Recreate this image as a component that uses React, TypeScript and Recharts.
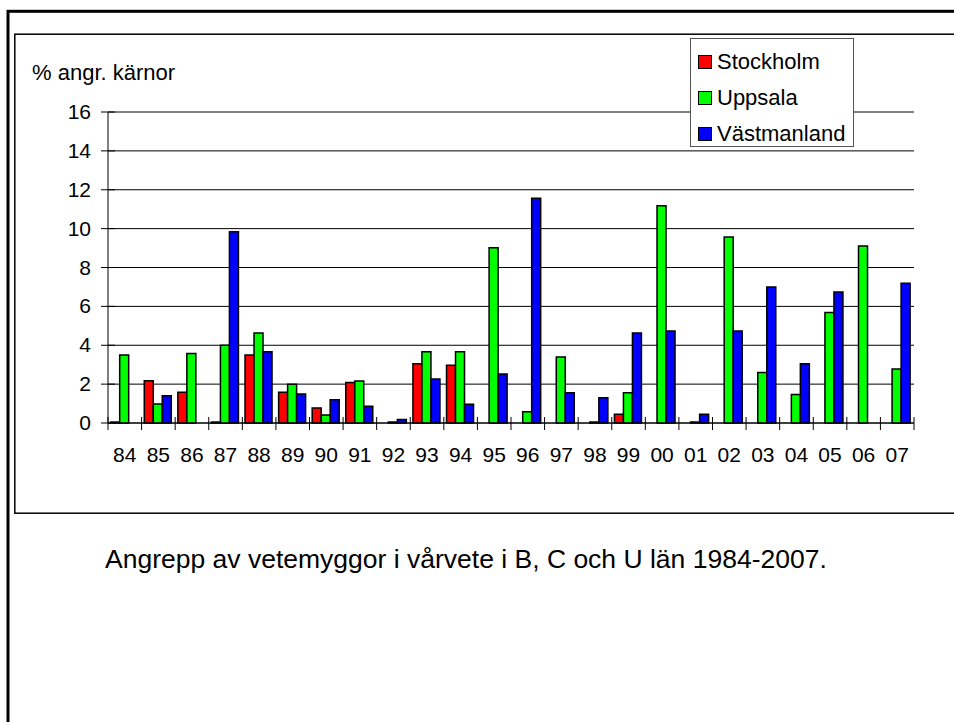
import { BarChart, Bar, XAxis, YAxis, CartesianGrid } from 'recharts';

const years = ['84', '85', '86', '87', '88', '89', '90', '91', '92', '93', '94', '95', '96', '97', '98', '99', '00', '01', '02', '03', '04', '05', '06', '07'];
const stockholm = [0.05, 2.18, 1.58, 0.05, 3.5, 1.58, 0.77, 2.09, null, 3.05, 2.97, null, null, null, null, 0.45, null, null, null, null, null, null, null, null];
const uppsala = [3.5, 0.98, 3.57, 4.0, 4.63, 2.0, 0.41, 2.16, 0.05, 3.67, 3.67, 9.02, 0.58, 3.4, 0.05, 1.56, 11.18, 0.05, 9.57, 2.6, 1.47, 5.69, 9.1, 2.78];
const vastmanland = [null, 1.4, null, 9.84, 3.67, 1.49, 1.2, 0.86, 0.18, 2.26, 0.96, 2.52, 11.56, 1.56, 1.3, 4.63, 4.73, 0.45, 4.73, 7.0, 3.05, 6.74, null, 7.19];
const yTicks = [0, 2, 4, 6, 8, 10, 12, 14, 16];

const series = [
  { key: 'Stockholm', color: '#ff0000' },
  { key: 'Uppsala', color: '#00ff00' },
  { key: 'Västmanland', color: '#0000ff' },
];

const data = years.map((y, i) => ({
  year: y,
  Stockholm: stockholm[i],
  Uppsala: uppsala[i],
  'Västmanland': vastmanland[i],
}));

const FONT = '"Liberation Sans", Arial, sans-serif';
const PLOT_LEFT = 108;
const PLOT_RIGHT = 914;
const PLOT_TOP = 112;
const PLOT_BOTTOM = 423;
const BAND = (PLOT_RIGHT - PLOT_LEFT) / years.length;

function XTick(props: any) {
  const { x, payload, index } = props;
  return (
    <g>
      <line x1={x - BAND / 2} x2={x - BAND / 2} y1={PLOT_BOTTOM - 6} y2={PLOT_BOTTOM + 7} stroke="#000" strokeWidth={1} />
      {index === years.length - 1 && (
        <line x1={x + BAND / 2} x2={x + BAND / 2} y1={PLOT_BOTTOM - 6} y2={PLOT_BOTTOM + 7} stroke="#000" strokeWidth={1} />
      )}
      <text x={x} y={462} textAnchor="middle" fontSize={21} fontFamily={FONT} fill="#000">
        {payload.value}
      </text>
    </g>
  );
}

function YTick(props: any) {
  const { y, payload } = props;
  return (
    <g>
      <line x1={PLOT_LEFT - 7} x2={PLOT_LEFT + 7} y1={y} y2={y} stroke="#000" strokeWidth={1} />
      <text x={91} y={y + 7} textAnchor="end" fontSize={21} fontFamily={FONT} fill="#000">
        {payload.value}
      </text>
    </g>
  );
}

function LegendBox() {
  return (
    <div style={{ position: 'absolute', left: 690, top: 38, width: 162, height: 107, background: '#fff', border: '1px solid #555', fontFamily: FONT, fontSize: 22 }}>
      {series.map((s, i) => (
        <div key={s.key} style={{ position: 'absolute', left: 7, top: 12 + i * 36, display: 'flex', alignItems: 'center', lineHeight: '22px' }}>
          <span style={{ width: 12, height: 12, background: s.color, border: '1.5px solid #000', display: 'inline-block', marginRight: 5 }} />
          <span>{s.key}</span>
        </div>
      ))}
    </div>
  );
}

export default function App() {
  return (
    <div style={{ position: 'absolute', left: 0, top: 0, width: 954, height: 722, background: '#fff', overflow: 'hidden' }}>
      <svg width={954} height={722} style={{ position: 'absolute', left: 0, top: 0 }}>
        <rect x={8} y={11.3} width={1000} height={800} fill="none" stroke="#000" strokeWidth={3} />
        <rect x={14.8} y={34.2} width={1000} height={479} fill="none" stroke="#000" strokeWidth={1.5} />
        <text x={32} y={80} fontSize={22} fontFamily={FONT} fill="#000">% angr. kärnor</text>
        <text x={105} y={568} fontSize={26.5} fontFamily={FONT} fill="#000">
          Angrepp av vetemyggor i vårvete i B, C och U län 1984-2007.
        </text>
      </svg>
      <div style={{ position: 'absolute', left: 0, top: 0 }}>
        <BarChart
          width={954}
          height={722}
          data={data}
          margin={{ top: PLOT_TOP, right: 954 - PLOT_RIGHT, left: PLOT_LEFT - 60, bottom: 722 - PLOT_BOTTOM - 30 }}
          barGap={0}
          barCategoryGap="8%"
        >
          <CartesianGrid vertical={false} stroke="#000" strokeWidth={1} />
          <XAxis dataKey="year" height={30} axisLine={{ stroke: '#000' }} tickLine={false} tick={<XTick />} interval={0} />
          <YAxis width={60} domain={[0, 16]} ticks={yTicks} axisLine={{ stroke: '#000' }} tickLine={false} tick={<YTick />} />
          {series.map((s) => (
            <Bar key={s.key} dataKey={s.key} fill={s.color} stroke="#000" strokeWidth={1.5} isAnimationActive={false} />
          ))}
        </BarChart>
      </div>
      <LegendBox />
    </div>
  );
}
